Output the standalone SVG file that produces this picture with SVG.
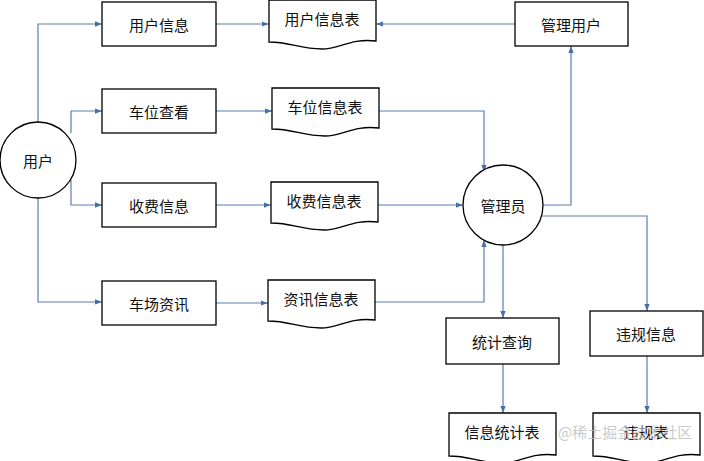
<svg xmlns="http://www.w3.org/2000/svg" width="704" height="461" viewBox="0 0 704 461">
<defs>
<marker id="a" viewBox="0 0 8 8" refX="8" refY="4" markerWidth="6" markerHeight="6" orient="auto"><path d="M0,1 L8,4 L0,7 z" fill="#4a6fa5"/></marker>
<style>
.b{fill:#fff;stroke:#000;stroke-width:1.3}
.t{font-family:"Noto Sans CJK SC",sans-serif;font-size:15px;text-anchor:middle;dominant-baseline:central;fill:#111}
.c path{fill:none;stroke:#5b7db5;stroke-width:1.2;marker-end:url(#a)}
</style>
</defs>
<rect width="704" height="461" fill="#fff"/>
<g class="c">
<path d="M38,122 V24 H102"/>
<path d="M71,133 V111 H102"/>
<path d="M71,180 V205 H102"/>
<path d="M38,198 V302 H102"/>
<path d="M216,24 H269"/>
<path d="M216,111 H272"/>
<path d="M216,205 H271"/>
<path d="M216,303 H268"/>
<path d="M515,24 H376"/>
<path d="M379,111 H484 V172"/>
<path d="M378,205 H463"/>
<path d="M375,302 H484 V240"/>
<path d="M543,205 H571 V46"/>
<path d="M540,216 H647 V311"/>
<path d="M503,245 V318"/>
<path d="M503,364 V413"/>
<path d="M647,356 V413"/>
</g>
<g id="user"><circle class="b" cx="38" cy="160" r="38"/><text class="t" x="38" y="160">用户</text></g>
<g id="userinfo"><rect class="b" x="102" y="2" width="114" height="44"/><text class="t" x="159" y="24">用户信息</text></g>
<g id="parking"><rect class="b" x="102" y="89" width="114" height="44"/><text class="t" x="159" y="111">车位查看</text></g>
<g id="fee"><rect class="b" x="102" y="183" width="114" height="44"/><text class="t" x="159" y="205">收费信息</text></g>
<g id="news"><rect class="b" x="102" y="281" width="114" height="44"/><text class="t" x="159" y="303">车场资讯</text></g>
<g id="d1"><path class="b" d="M269,0 H376 V41 C350,38 340,49 322,49 C300,49 290,42 269,42 Z"/><text class="t" x="322" y="18">用户信息表</text></g>
<g id="d2"><path class="b" d="M272,88 H379 V128 C353,125 343,136 325,136 C303,136 293,129 272,129 Z"/><text class="t" x="325" y="106">车位信息表</text></g>
<g id="d3"><path class="b" d="M271,182 H378 V222 C352,219 342,230 324,230 C302,230 292,223 271,223 Z"/><text class="t" x="324" y="200">收费信息表</text></g>
<g id="d4"><path class="b" d="M268,280 H375 V320 C349,317 339,328 321,328 C299,328 289,321 268,321 Z"/><text class="t" x="321" y="298">资讯信息表</text></g>
<g id="manageuser"><rect class="b" x="515" y="2" width="113" height="44"/><text class="t" x="571" y="24">管理用户</text></g>
<g id="admin"><circle class="b" cx="503" cy="205" r="40"/><text class="t" x="503" y="205">管理员</text></g>
<g id="stat"><rect class="b" x="446" y="318" width="113" height="46"/><text class="t" x="502" y="341">统计查询</text></g>
<g id="viol"><rect class="b" x="590" y="311" width="113" height="45"/><text class="t" x="646" y="333">违规信息</text></g>
<g id="d5"><path class="b" d="M449,413 H556 V455 C530,452 520,463 502,463 C480,463 470,456 449,456 Z"/><text class="t" x="502" y="431">信息统计表</text></g>
<g id="d6"><path class="b" d="M593,413 H700 V455 C674,452 664,463 646,463 C624,463 614,456 593,456 Z"/><text class="t" x="646" y="431">违规表</text></g>
<text x="558" y="438" style="font-family:'Noto Sans CJK SC',sans-serif;font-size:15px;fill:#bbb;fill-opacity:0.8">@稀土掘金技术社区</text>
</svg>
